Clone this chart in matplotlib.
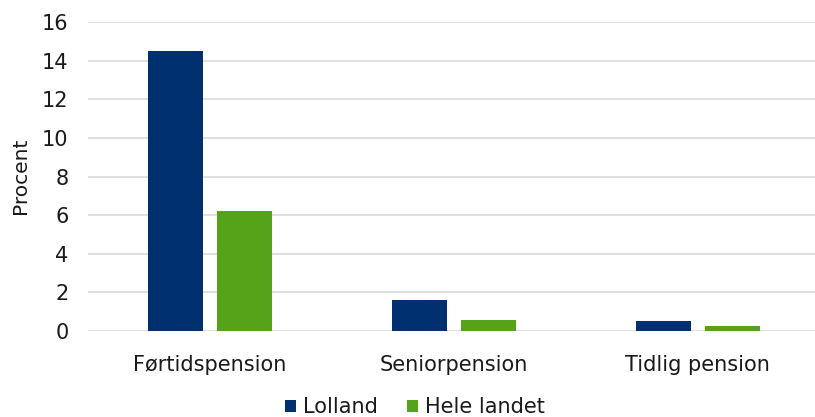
import matplotlib
matplotlib.use("Agg")
import matplotlib.pyplot as plt
import numpy as np

categories = ["Førtidspension", "Seniorpension", "Tidlig pension"]
lolland = [14.5, 1.6, 0.5]
hele_landet = [6.2, 0.55, 0.25]
series_names = ["Lolland", "Hele landet"]
yticks = [0, 2, 4, 6, 8, 10, 12, 14, 16]

plt.rcParams['font.family'] = ['DejaVu Sans']
fig = plt.figure(figsize=(8.15, 4.17), dpi=100)
ax = fig.add_axes([88/815, 86/417, 727/815, 309/417])

x = np.arange(len(categories))
w = 0.224
off = 0.142
c1, c2 = "#00306f", "#55a318"
ax.bar(x - off, lolland, w, color=c1, label=series_names[0], zorder=3)
ax.bar(x + off, hele_landet, w, color=c2, label=series_names[1], zorder=3)

fs = 15
ax.set_xlim(-0.5, 2.48)
ax.set_ylim(0, 16)
ax.set_yticks(yticks)
ax.set_xticks(x)
ax.set_xticklabels(categories)
ax.yaxis.grid(True, color="#d9d9d9", linewidth=1.2, zorder=0)
ax.set_axisbelow(True)
for s in ax.spines.values():
    s.set_visible(False)
ax.tick_params(axis='both', length=0, labelsize=fs, colors="#1a1a1a")
ax.tick_params(axis='x', pad=17)
ax.tick_params(axis='y', pad=14)
fig.text(21/815, 1 - 176/417, "Procent", rotation=90, fontsize=14.5,
         color="#1a1a1a", ha="center", va="center")

leg = fig.legend(loc="center", bbox_to_anchor=(415/815, 1 - 407/417), ncol=2,
                 frameon=False, fontsize=fs, handlelength=0.5, handleheight=0.5,
                 handletextpad=0.35, columnspacing=1.4)
for t in leg.get_texts():
    t.set_color("#1a1a1a")
fig.savefig("out.png", dpi=100)
